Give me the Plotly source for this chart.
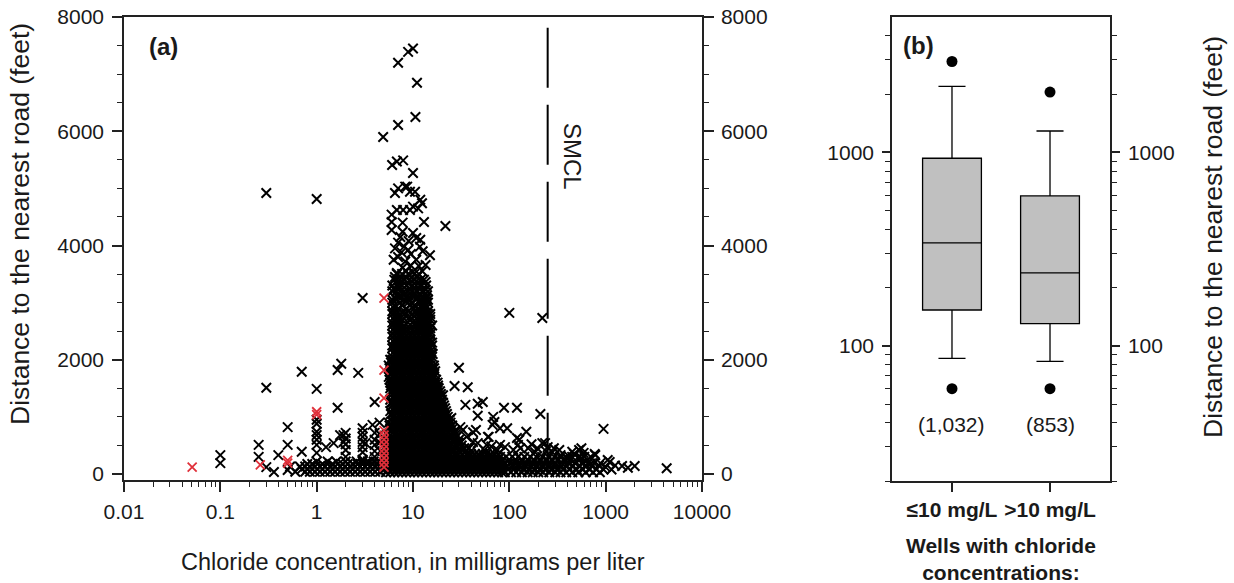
import math
import plotly.graph_objects as go

# ---------------- Panel (a): chloride vs distance ----------------
# isolated points above the dense cluster  (chloride mg/L, distance ft)
upper_pts = [
    (0.30, 4920), (1.0, 4815),
    (7.0, 7200), (8.9, 7390), (10.0, 7450), (11.0, 6850), (10.6, 6250), (7.0, 6110), (4.9, 5900),
    (6.07, 5410), (6.8, 5470), (7.9, 5490), (10.0, 5270),
    (6.5, 4920), (7.0, 5000), (8.3, 5030), (8.7, 5030), (9.3, 4940), (10.5, 4940), (11.9, 4800),
    (12.4, 4740), (11.3, 4650), (9.3, 4620), (7.9, 4620), (6.8, 4620), (10.0, 4680), (6.0, 4540),
    (6.0, 4410), (7.8, 4400), (13.0, 4410), (21.7, 4340), (6.0, 4270), (7.8, 4240), (10.0, 4220),
    (11.9, 4100), (7.0, 4050), (10.8, 4130), (11.8, 3980), (8.9, 3920), (6.5, 3950), (15.0, 3830),
    (7.0, 3800), (9.5, 3850), (10.8, 3750), (6.3, 3750), (8.3, 3720), (13.5, 3660), (7.8, 3610),
    (9.5, 3650), (11.5, 3640), (10.0, 3540), (6.8, 3520), (8.5, 3550), (12.5, 3550), (8.6, 3430),
    (6.5, 3450), (11.0, 3450), (13.5, 3360), (10.8, 3370), (7.2, 3350), (9.0, 3330), (12.0, 3320),
    (7.0, 3260), (9.3, 3250), (11.5, 3250), (6.3, 3240), (13.5, 3230), (9.3, 3170), (7.3, 3100),
    (8.2, 3150), (10.5, 3150), (12.0, 3150), (14.0, 3130), (13.5, 3060), (6.5, 3080), (11.0, 3080),
    (8.8, 3070), (7.4, 4150), (9.0, 4080), (8.1, 3980), (12.6, 3900), (7.6, 3880),
]

# dense cluster between ~5 and ~40 mg/L: (distance, [chloride values])
core_rows = [
    (3500, [6.8, 7.7, 8.9, 10.3, 11.5]),
    (3400, [6.4, 7.3, 8.1, 9.3, 10.3, 12.0, 13.0]),
    (3300, [6.1, 7.0, 7.7, 8.5, 9.8, 10.8, 11.9, 13.7]),
    (3200, [6.1, 6.7, 7.3, 8.1, 8.9, 9.8, 10.8, 12.4, 13.0, 14.3]),
    (3100, [6.4, 7.0, 7.7, 8.5, 9.3, 10.3, 11.3, 12.4, 13.7]),
    (3050, [6.1, 6.7, 8.1, 8.9, 10.8, 11.9, 13.0, 14.3]),
    (3000, [6.1, 7.3, 8.9, 9.8, 11.9, 13.0, 14.3]),
    (2950, [6.4, 7.7, 9.3, 10.3, 12.4, 13.7]),
    (2900, [6.4, 7.0, 8.5, 10.3, 11.3, 12.4, 13.7]),
    (2850, [6.1, 6.7, 8.1, 8.9, 10.8, 11.9, 13.0, 14.3]),
    (2800, [6.1, 6.7, 7.3, 8.1, 9.8, 10.8, 11.9, 13.0, 14.3, 15.1]),
    (2750, [6.4, 7.0, 8.5, 9.3, 10.3, 11.3, 12.4, 13.7, 15.1]),
    (2700, [6.4, 7.0, 7.7, 9.3, 11.3, 12.4, 13.7, 15.1]),
    (2650, [6.1, 6.7, 7.3, 8.9, 9.8, 10.8, 11.9, 13.0, 14.3]),
    (2600, [6.1, 6.7, 7.3, 8.1, 10.8, 11.9, 13.0, 14.3, 15.8]),
    (2550, [6.4, 7.0, 7.7, 8.5, 9.3, 10.3, 11.3, 12.4, 13.7, 15.1]),
    (2500, [6.4, 7.0, 7.7, 8.5, 10.3, 11.3, 12.4, 13.7, 15.1]),
    (2450, [6.1, 6.7, 7.3, 8.1, 8.9, 9.8, 10.8, 11.9, 13.0, 14.3, 15.1]),
    (2400, [6.1, 6.7, 7.3, 8.1, 8.9, 9.8, 10.8, 11.9, 13.0, 14.3]),
    (2350, [6.4, 7.0, 7.7, 8.5, 9.3, 10.3, 11.3, 12.4, 13.7, 15.1]),
    (2300, [6.4, 7.0, 7.7, 8.5, 9.3, 10.3, 11.3, 12.4, 13.7, 15.1, 15.8]),
    (2250, [6.1, 6.7, 7.3, 8.1, 8.9, 9.8, 10.8, 11.9, 13.0, 14.3, 15.8]),
    (2200, [6.1, 6.7, 7.3, 8.1, 8.9, 9.8, 10.8, 11.9, 13.0, 14.3, 15.1]),
    (2150, [6.4, 7.0, 7.7, 8.5, 9.3, 10.3, 11.3, 12.4, 13.7, 15.1]),
    (2100, [6.4, 7.0, 7.7, 8.5, 9.3, 10.3, 11.3, 12.4, 13.7, 15.1, 16.0]),
    (2050, [6.1, 6.7, 7.3, 8.1, 8.9, 9.8, 10.8, 11.9, 13.0, 14.3, 15.8]),
    (2000, [5.8, 6.1, 6.7, 7.3, 8.1, 8.9, 9.8, 10.8, 11.9, 13.0, 14.3, 15.5]),
    (1950, [5.9, 6.4, 7.0, 7.7, 8.5, 9.3, 10.3, 11.3, 12.4, 13.7, 15.1]),
    (1900, [5.6, 6.4, 7.0, 7.7, 8.5, 9.3, 10.3, 11.3, 12.4, 13.7, 15.1, 16.5]),
    (1850, [5.7, 6.1, 6.7, 7.3, 8.1, 8.9, 9.8, 10.8, 11.9, 13.0, 14.3, 15.8, 16.6]),
    (1800, [5.8, 6.1, 6.7, 7.3, 8.1, 8.9, 9.8, 10.8, 11.9, 13.0, 14.3, 15.8, 17.0]),
    (1750, [5.9, 6.4, 7.0, 7.7, 8.5, 9.3, 10.3, 11.3, 12.4, 13.7, 15.1, 16.6]),
    (1700, [5.6, 6.4, 7.0, 7.7, 8.5, 9.3, 10.3, 11.3, 12.4, 13.7, 15.1, 16.5]),
    (1650, [5.7, 6.1, 6.7, 7.3, 8.1, 8.9, 9.8, 10.8, 11.9, 13.0, 14.3, 15.8, 17.4]),
    (1600, [5.8, 6.1, 6.7, 7.3, 8.1, 8.9, 9.8, 10.8, 11.9, 13.0, 14.3, 15.8, 17.0, 18.0]),
    (1550, [5.9, 6.4, 7.0, 7.7, 8.5, 9.3, 10.3, 11.3, 12.4, 13.7, 15.1, 16.6, 18.2]),
    (1500, [5.8, 6.4, 7.0, 7.7, 8.5, 9.3, 10.3, 11.3, 12.4, 13.7, 15.1, 16.5, 18.5]),
    (1450, [5.9, 6.1, 6.7, 7.3, 8.1, 8.9, 9.8, 10.8, 11.9, 13.0, 14.3, 15.8, 17.4, 19.1]),
    (1400, [6.1, 6.7, 7.3, 8.1, 8.9, 9.8, 10.8, 11.9, 13.0, 14.3, 15.8, 17.0, 19.5]),
    (1350, [6.4, 7.0, 7.7, 8.5, 9.3, 10.3, 11.3, 12.4, 13.7, 15.1, 16.6, 18.2, 19.5]),
    (1300, [5.8, 6.4, 7.0, 7.7, 8.5, 9.3, 10.3, 11.3, 12.4, 13.7, 15.1, 16.5, 18.0, 20.0]),
    (1250, [5.9, 6.1, 6.7, 7.3, 8.1, 8.9, 9.8, 10.8, 11.9, 13.0, 14.3, 15.8, 17.4, 19.1, 20.5]),
    (1200, [6.1, 6.7, 7.3, 8.1, 8.9, 9.8, 10.8, 11.9, 13.0, 14.3, 15.8, 17.0, 19.0, 21.0]),
    (1150, [6.4, 7.0, 7.7, 8.5, 9.3, 10.3, 11.3, 12.4, 13.7, 15.1, 16.6, 18.2, 20.0, 21.5]),
    (1100, [5.8, 6.4, 7.0, 7.7, 8.5, 9.3, 10.3, 11.3, 12.4, 13.7, 15.1, 16.5, 18.0, 20.0, 22.0]),
    (1050, [5.9, 6.1, 6.7, 7.3, 8.1, 8.9, 9.8, 10.8, 11.9, 13.0, 14.3, 15.8, 17.4, 19.1, 21.0, 22.5]),
    (1000, [6.1, 6.7, 7.3, 8.1, 8.9, 9.8, 10.8, 11.9, 13.0, 14.3, 15.8, 17.0, 19.0, 21.0, 23.0]),
    (950, [6.4, 7.0, 7.7, 8.5, 9.3, 10.3, 11.3, 12.4, 13.7, 15.1, 16.6, 18.2, 20.0, 22.0, 24.0]),
    (900, [5.6, 6.4, 7.0, 7.7, 8.5, 9.3, 10.3, 11.3, 12.4, 13.7, 15.1, 16.5, 18.0, 20.0, 22.0, 24.5]),
    (850, [5.7, 6.1, 6.7, 7.3, 8.1, 8.9, 9.8, 10.8, 11.9, 13.0, 14.3, 15.8, 17.4, 19.1, 21.0, 23.1, 25.5]),
    (800, [5.8, 6.1, 6.7, 7.3, 8.1, 8.9, 9.8, 10.8, 11.9, 13.0, 14.3, 15.8, 17.0, 19.0, 21.0, 23.0, 26.0]),
    (750, [5.9, 6.4, 7.0, 7.7, 8.5, 9.3, 10.3, 11.3, 12.4, 13.7, 15.1, 16.6, 18.2, 20.0, 22.0, 24.3, 27.0]),
    (700, [5.6, 6.4, 7.0, 7.7, 8.5, 9.3, 10.3, 11.3, 12.4, 13.7, 15.1, 16.5, 18.0, 20.0, 22.0, 24.5, 28.0]),
    (650, [5.6, 6.1, 6.7, 7.3, 8.1, 8.9, 9.8, 10.8, 11.9, 13.0, 14.3, 15.8, 17.4, 19.1, 21.0, 23.1, 25.5,
           28.5]),
    (600, [5.5, 6.1, 6.7, 7.3, 8.1, 8.9, 9.8, 10.8, 11.9, 13.0, 14.3, 15.8, 17.0, 19.0, 21.0, 23.0, 26.0,
           30.0]),
    (550, [5.6, 5.9, 6.4, 7.0, 7.7, 8.5, 9.3, 10.3, 11.3, 12.4, 13.7, 15.1, 16.6, 18.2, 20.0, 22.0, 24.3,
           26.7, 29.4, 31.0]),
    (500, [5.4, 5.8, 6.4, 7.0, 7.7, 8.5, 9.3, 10.3, 11.3, 12.4, 13.7, 15.1, 16.5, 18.0, 20.0, 22.0, 24.5,
           28.0, 32.0]),
    (450, [5.3, 5.7, 6.1, 6.7, 7.3, 8.1, 8.9, 9.8, 10.8, 11.9, 13.0, 14.3, 15.8, 17.4, 19.1, 21.0, 23.1,
           25.5, 28.0, 30.8, 34.0, 38.0]),
    (400, [5.3, 5.6, 6.1, 6.7, 7.3, 8.1, 8.9, 9.8, 10.8, 11.9, 13.0, 14.3, 15.8, 17.0, 19.0, 21.0, 23.0,
           26.0, 30.0, 35.0, 40.0]),
    (350, [5.2, 5.5, 5.9, 6.4, 7.0, 7.7, 8.5, 9.3, 10.3, 11.3, 12.4, 13.7, 15.1, 16.6, 18.2, 20.0, 22.0,
           24.3, 26.7, 29.4, 32.4, 36.0, 40.0, 44.0, 48.0, 53.0, 58.0, 64.0, 70.0, 77.0]),
]

# bottom band of low distances
band_rows = [
    (300, [5.0, 5.5, 6.1, 6.7, 7.3, 8.1, 8.9, 9.8, 10.8, 11.9, 13.0, 14.3, 15.8, 17.4, 19.1, 21.0, 23.1,
           25.5, 28.0, 30.8, 34.0, 37.3, 41.1, 45.2, 49.8, 54.7, 60.2, 66.3, 72.9, 80.2, 92.6, 107, 123,
           143, 164, 190, 219, 253, 292, 337, 389, 449, 520, 600, 700]),
    (250, [5.25, 5.8, 6.4, 7.0, 7.7, 8.5, 9.3, 10.3, 11.3, 12.4, 13.7, 15.1, 16.6, 18.2, 20.0, 22.0, 24.3,
           26.7, 29.4, 32.4, 35.6, 39.2, 43.1, 47.5, 52.2, 57.4, 63.2, 69.5, 76.5, 84, 100, 116, 135, 155,
           180, 210, 245, 280, 325, 375, 430]),
    (190, [5.0, 5.5, 6.1, 6.7, 7.3, 8.1, 8.9, 9.8, 10.8, 11.9, 13.0, 14.3, 15.8, 17.4, 19.1, 21.0, 23.1,
           25.5, 28.0, 30.8, 34.0, 37.3, 41.1, 45.2, 49.8, 54.7, 60.2, 66.3, 72.9, 80.2, 88, 100, 115,
           130, 150, 175, 200, 230, 265, 300, 350, 410, 480, 560, 650, 760, 880]),
    (140, [5.25, 5.8, 6.4, 7.0, 7.7, 8.5, 9.3, 10.3, 11.3, 12.4, 13.7, 15.1, 16.6, 18.2, 20.0, 22.0, 24.3,
           26.7, 29.4, 32.4, 35.6, 39.2, 43.1, 47.5, 52.2, 57.4, 63.2, 69.5, 76.5, 84, 95, 110, 128, 148,
           170, 198, 228, 262, 305, 350, 400, 460, 540, 620, 720]),
    (80, [5.0, 5.5, 6.1, 6.7, 7.3, 8.1, 8.9, 9.8, 10.8, 11.9, 13.0, 14.3, 15.8, 17.4, 19.1, 21.0, 23.1,
          25.5, 28.0, 30.8, 34.0, 37.3, 41.1, 45.2, 49.8, 54.7, 60.2, 66.3, 72.9, 80.2, 86, 97, 110,
          125, 140, 160, 180, 205, 235, 270, 310, 360, 420, 500, 580, 680, 800, 950, 1150]),
    (30, [5.25, 5.8, 6.4, 7.0, 7.7, 8.5, 9.3, 10.3, 11.3, 12.4, 13.7, 15.1, 16.6, 18.2, 20.0, 22.0, 24.3,
          26.7, 29.4, 32.4, 35.6, 39.2, 43.1, 47.5, 52.2, 57.4, 63.2, 69.5, 76.5, 84, 90, 104, 118, 135,
          155, 175, 200, 225, 260, 300, 340, 390, 450, 520, 620, 740, 870]),
]

# low band below 5 mg/L
left_band_rows = [
    (175, [0.8, 0.9, 1.15, 1.46, 1.86, 2.1, 2.36, 2.66, 3.0, 3.38, 3.8, 4.3, 4.8]),
    (130, [0.53, 0.67, 0.76, 0.85, 0.96, 1.08, 1.22, 1.38, 1.55, 1.75, 1.97, 2.22, 2.51, 2.83, 3.18,
           3.59, 4.04, 4.55]),
    (85, [0.7, 0.8, 0.9, 1.02, 1.15, 1.3, 1.46, 1.65, 1.86, 2.1, 2.36, 2.66, 3.0, 3.38, 3.8, 4.3, 4.8]),
    (40, [0.6, 0.76, 0.85, 0.96, 1.08, 1.22, 1.38, 1.55, 1.75, 1.97, 2.22, 2.51, 2.83, 3.18, 3.59,
          4.04, 4.55]),
    (220, [1.0, 1.3, 1.6, 2.0, 2.6, 3.0, 3.4, 3.9, 4.4]),
]

left_pts = [
    (0.1, 330), (0.1, 190), (0.25, 510), (0.25, 300), (0.30, 1510), (0.3, 120), (0.36, 35), (0.4, 330),
    (0.5, 820), (0.5, 510), (0.5, 70), (0.7, 1790), (0.7, 390), (1.0, 1490), (1.0, 950), (1.0, 880),
    (1.0, 740), (1.0, 680), (1.0, 600), (1.0, 510), (1.0, 370), (1.25, 470), (1.5, 540), (1.65, 1160),
    (1.65, 1820), (1.8, 1930), (1.75, 680), (1.9, 680), (1.9, 560), (2.0, 720), (2.0, 620), (2.0, 520),
    (2.0, 420), (2.0, 300), (2.7, 1770), (3.0, 3080), (3.0, 800), (3.0, 720), (3.0, 650), (3.0, 560),
    (3.0, 470), (3.0, 380), (3.0, 250), (3.8, 860), (4.0, 1260), (4.0, 720), (4.0, 600), (4.0, 510),
    (4.0, 400), (4.0, 300), (4.5, 900), (4.5, 700), (4.5, 550), (4.6, 400), (3.2, 540),
]

tail_pts = [
    (16.5, 1700), (18, 1520), (20.5, 1380), (17.5, 1210), (19, 950), (24, 950), (25, 980), (31, 820),
    (33, 770), (26, 720), (36, 650), (42, 730), (47, 540), (58, 510), (60, 650), (70, 910), (80, 800),
    (95, 800), (150, 740), (120, 630), (123, 510), (157, 450), (195, 450), (220, 540), (250, 470),
    (290, 450), (20, 720), (19, 540), (30, 1860), (27, 1540), (37, 1520), (35, 1210), (47, 1230),
    (53, 1260), (47, 1020), (68, 1000), (88, 1160), (120, 1160), (210, 1050), (100, 2820), (220, 2730),
    (45, 770), (67, 860), (61, 650), (127, 600), (80, 510), (235, 540), (560, 450), (470, 350),
    (770, 350), (1050, 245), (1100, 210), (1480, 140), (2000, 140), (4300, 100), (950, 790), (530, 420),
    (590, 370), (780, 330), (340, 330), (390, 280), (450, 390), (38, 450), (42, 560), (55, 420),
    (65, 480), (75, 420), (90, 470), (110, 420), (130, 450), (170, 520), (185, 380), (240, 400),
    (280, 380), (330, 420), (420, 300), (650, 250), (560, 280), (700, 180), (850, 150), (1000, 120),
    (1250, 150), (1700, 110),
]

red_pts = [
    (0.051, 120), (0.26, 160), (0.5, 240), (0.5, 190), (1.0, 1090), (1.0, 1040), (5.0, 3080),
    (5.0, 1820), (5.0, 1330), (5.0, 760), (5.0, 680), (5.0, 600), (5.0, 520), (5.0, 440), (5.0, 360),
    (5.0, 280), (5.0, 200), (5.0, 120),
]

smcl_value = 250
smcl_top = 7810

x_tickvals = [0.01, 0.1, 1, 10, 100, 1000, 10000]
x_ticktext = ["0.01", "0.1", "1", "10", "100", "1000", "10000"]
y_tickvals = [0, 2000, 4000, 6000, 8000]

# ---------------- Panel (b): box plots ----------------
box_pos = [0, 1]
box_labels = ["≤10 mg/L", ">10 mg/L"]
box_counts = ["(1,032)", "(853)"]
box_q1 = [153, 130]
box_median = [340, 238]
box_q3 = [931, 595]
box_low = [86, 83]
box_high = [2190, 1288]
outlier_x = [0, 0, 1, 1]
outlier_y = [2944, 60, 2046, 60]
count_level = 39
b_tickvals = [100, 1000]
b_minor = [20, 30, 40, 50, 60, 70, 80, 90, 200, 300, 400, 500, 600, 700, 800, 900, 2000, 3000, 4000]

# ---------------- build ----------------
W, H = 1234, 583
FONT = "Liberation Sans, Arial, sans-serif"
INK = "#1a1a1a"


def px(p):
    return p / W


def py(p):
    return 1 - p / H


bx, by = [], []
for pts in (upper_pts, left_pts, tail_pts):
    for x, y in pts:
        bx.append(x)
        by.append(y)
for rows in (core_rows, band_rows, left_band_rows):
    for y, xs in rows:
        for x in xs:
            bx.append(x)
            by.append(y)

fig = go.Figure()
xmark = dict(symbol="x-thin", size=9.5, color="black", line=dict(color="black", width=2))
fig.add_trace(go.Scatter(x=bx, y=by, mode="markers", marker=xmark, xaxis="x", yaxis="y",
                         showlegend=False, hoverinfo="skip"))
fig.add_trace(go.Scatter(x=[p[0] for p in red_pts], y=[p[1] for p in red_pts], mode="markers",
                         marker=dict(symbol="x-thin", size=9, color="#e0303a",
                                     line=dict(color="#e0303a", width=1.8)),
                         xaxis="x", yaxis="y", showlegend=False, hoverinfo="skip"))
fig.add_trace(go.Scatter(x=[smcl_value, smcl_value], y=[smcl_top, -105], mode="lines",
                         line=dict(color="black", width=2, dash="60px,17px"),
                         xaxis="x", yaxis="y", showlegend=False, hoverinfo="skip"))
# carrier for right axis
fig.add_trace(go.Scatter(x=[1], y=[0], mode="markers", marker=dict(opacity=0), xaxis="x", yaxis="y2",
                         showlegend=False, hoverinfo="skip"))

fig.add_trace(go.Box(x=box_pos, q1=box_q1, median=box_median, q3=box_q3, lowerfence=box_low,
                     upperfence=box_high, width=0.6, whiskerwidth=0.46, fillcolor="#c0c0c0",
                     line=dict(color="black", width=1.3), boxpoints=False, xaxis="x2", yaxis="y3",
                     showlegend=False, hoverinfo="skip"))
fig.add_trace(go.Scatter(x=outlier_x, y=outlier_y, mode="markers",
                         marker=dict(symbol="circle", size=11, color="black", line=dict(width=0)),
                         xaxis="x2", yaxis="y3", showlegend=False, hoverinfo="skip"))
fig.add_trace(go.Scatter(x=[0], y=[100], mode="markers", marker=dict(opacity=0), xaxis="x2", yaxis="y4",
                         showlegend=False, hoverinfo="skip"))

minor_x = [m * 10 ** e for e in range(-2, 4) for m in range(2, 10)]
axcommon = dict(showline=True, linecolor="#222", linewidth=1.5, ticks="outside", tickcolor="#222",
                tickwidth=1.5, showgrid=False, zeroline=False, automargin=False,
                tickfont=dict(family=FONT, size=21, color=INK))
minor_lin = dict(dtick=500, tick0=0, ticks="outside", ticklen=5, tickcolor="#222", tickwidth=1.2,
                 showgrid=False)

fig.update_layout(
    template="none",
    width=W, height=H, margin=dict(l=0, r=0, t=0, b=0, autoexpand=False),
    paper_bgcolor="white", plot_bgcolor="white", showlegend=False,
    font=dict(family=FONT, color=INK),
    xaxis=dict(domain=[px(124), px(702)], anchor="y", type="log", range=[-2, 4], tickvals=x_tickvals,
               ticktext=x_ticktext, ticklen=10, mirror=True, ticklabelstandoff=2,
               minor=dict(tickvals=minor_x, ticks="outside", ticklen=5, tickcolor="#222", tickwidth=1.2,
                          showgrid=False),
               **axcommon),
    yaxis=dict(domain=[py(480), py(17)], anchor="x", range=[-105, 8000], tickvals=y_tickvals, ticklen=10,
               ticklabelstandoff=4, minor=minor_lin, **axcommon),
    yaxis2=dict(overlaying="y", side="right", anchor="x", range=[-105, 8000], tickvals=y_tickvals,
                ticklen=10, ticklabelstandoff=3, minor=minor_lin, **axcommon),
    xaxis2=dict(domain=[px(892), px(1110)], anchor="y3", range=[-0.612, 1.612], tickvals=box_pos,
                ticktext=["<b>%s</b>" % t for t in box_labels], ticklen=9, mirror=True, **axcommon),
    yaxis3=dict(domain=[py(481), py(17)], anchor="x2", type="log", range=[math.log10(20), math.log10(5000)],
                tickvals=b_tickvals, ticktext=["100", "1000"], ticklen=8, ticklabelstandoff=4,
                minor=dict(tickvals=b_minor, ticks="outside", ticklen=5, tickcolor="#222", tickwidth=1.2,
                           showgrid=False),
                **axcommon),
    yaxis4=dict(overlaying="y3", side="right", anchor="x2", type="log",
                range=[math.log10(20), math.log10(5000)], tickvals=b_tickvals, ticktext=["100", "1000"],
                ticklen=8, ticklabelstandoff=4,
                minor=dict(tickvals=b_minor, ticks="outside", ticklen=5, tickcolor="#222", tickwidth=1.2,
                           showgrid=False),
                **axcommon),
)


def note(text, x, y, size, angle=0, xanchor="center", bold=False):
    return dict(text=("<b>%s</b>" % text) if bold else text, x=px(x), y=py(y), xref="paper", yref="paper",
                xanchor=xanchor, yanchor="middle", textangle=angle, showarrow=False,
                font=dict(family=FONT, size=size, color=INK))


ann = [
    note("(a)", 147, 47, 24, xanchor="left", bold=True),
    note("(b)", 901, 45, 24, xanchor="left", bold=True),
    note("SMCL", 573, 156, 24, angle=90),
    note("Chloride concentration, in milligrams per liter", 413, 562, 23.5),
    note("Distance to the nearest road (feet)", 20, 224, 26.5, angle=-90),
    note("Distance to the nearest road (feet)", 1213, 237, 26.5, angle=-90),
    note("Wells with chloride<br>concentrations:", 1001, 559, 21, bold=True),
]
for pos, cnt in zip(box_pos, box_counts):
    ann.append(dict(text=cnt, x=pos, y=math.log10(count_level), xref="x2", yref="y3", showarrow=False,
                    xanchor="center", yanchor="middle", font=dict(family=FONT, size=21, color=INK)))
fig.update_layout(annotations=ann)

fig.write_html("out.html")
